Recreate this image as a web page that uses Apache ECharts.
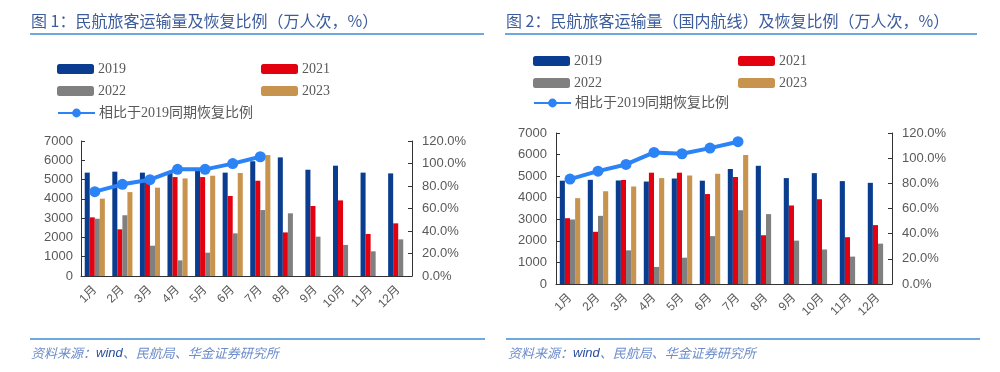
<!DOCTYPE html>
<html><head><meta charset="utf-8">
<script src="https://cdn.jsdelivr.net/npm/echarts@6/dist/echarts.min.js"></script>
<style>html,body{margin:0;padding:0;background:#fff}#c{width:1000px;height:372px}</style>
</head><body><div id="c"></div>
<script>
const months = ['1月','2月','3月','4月','5月','6月','7月','8月','9月','10月','11月','12月'];
const leftTicks = [0,1000,2000,3000,4000,5000,6000,7000];
const rightTicks = [0,20,40,60,80,100,120];
// Chart 1: total passenger volume (万人次)
const c1_2019 = [5360,5410,5360,5340,5480,5360,5950,6150,5510,5720,5360,5320];
const c1_2021 = [3040,2420,4950,5130,5130,4150,4940,2260,3630,3920,2180,2730];
const c1_2022 = [2970,3150,1570,810,1210,2210,3420,3250,2040,1610,1280,1900];
const c1_2023 = [4010,4350,4580,5060,5200,5340,6270];
const c1_ratio = [75.0,81.5,85.6,94.8,94.8,99.9,106.0];
// Chart 2: domestic routes (万人次)
const c2_2019 = [4790,4830,4800,4750,4890,4790,5330,5480,4910,5140,4770,4690];
const c2_2021 = [3050,2420,4820,5160,5160,4170,4960,2260,3640,3930,2170,2730];
const c2_2022 = [2990,3160,1560,790,1220,2220,3420,3240,2010,1600,1270,1870];
const c2_2023 = [3980,4300,4520,4910,5030,5110,5980];
const c2_ratio = [83.4,89.7,95.0,104.6,103.5,108.0,113.1];

const names = ['2019','2021','2022','2023','相比于2019同期恢复比例'];
const colors = {'2019':'#0a3d8f','2021':'#e3000f','2022':'#808080','2023':'#c8934c','line':'#2b83f6'};

const chart = echarts.init(document.getElementById('c'));
const axisCol = '#333';
const labCol = '#595959';
const numFont = 'Liberation Sans, Arial, sans-serif';

function xAxis(gi){
  return {type:'category', gridIndex:gi, data:months,
    axisLine:{lineStyle:{color:axisCol,width:1}},
    axisTick:{inside:true,length:4,lineStyle:{color:axisCol}},
    axisLabel:{rotate:45,margin:12,color:labCol,fontSize:12,fontFamily:'Liberation Sans, Noto Sans CJK SC, sans-serif'}};
}
function yLeft(gi,margin){
  return {type:'value', gridIndex:gi, min:leftTicks[0], max:leftTicks[leftTicks.length-1], interval:1000,
    splitLine:{show:false},
    axisLine:{show:true,lineStyle:{color:axisCol}},
    axisTick:{show:true,inside:true,length:4,lineStyle:{color:axisCol}},
    axisLabel:{margin:margin,color:labCol,fontSize:13,fontFamily:numFont,formatter:v=>String(v)}};
}
function yRight(gi,margin){
  return {type:'value', gridIndex:gi, position:'right', min:rightTicks[0], max:rightTicks[rightTicks.length-1], interval:20,
    splitLine:{show:false},
    axisLine:{show:true,lineStyle:{color:axisCol}},
    axisTick:{show:true,inside:true,length:4,lineStyle:{color:axisCol}},
    axisLabel:{margin:margin,color:labCol,fontSize:13,fontFamily:numFont,formatter:v=>v.toFixed(1)+'%'}};
}
function bars(xi,yi,arrs){
  const keys=['2019','2021','2022','2023'];
  return keys.map((k,i)=>({type:'bar',name:k,xAxisIndex:xi,yAxisIndex:yi,data:arrs[i],
    barGap:'0%',barCategoryGap:'27%',itemStyle:{color:colors[k]},silent:true}));
}
function line(xi,yi,data){
  return {type:'line',name:names[4],xAxisIndex:xi,yAxisIndex:yi,data:data,
    symbol:'circle',symbolSize:11,lineStyle:{color:colors.line,width:4},itemStyle:{color:colors.line},z:5};
}
const legFont = {color:labCol,fontSize:14,fontFamily:'Liberation Serif, Noto Sans CJK SC, serif'};
function legends(x1,x2,y1,y2,y3){
  const mk=(n,l,t)=>({data:[n],left:l,top:t,itemWidth:37,itemHeight:10,itemGap:0,padding:0,textStyle:Object.assign({padding:[0,0,0,-1]},legFont),selectedMode:false});
  return [mk('2019',x1,y1),mk('2021',x2,y1),mk('2022',x1,y2),mk('2023',x2,y2),
    Object.assign(mk(names[4],x1,y3),{itemHeight:11})];
}
const titleStyle={fill:'#3d5c9b',fontSize:16,fontFamily:'Noto Sans CJK SC, sans-serif'};
const footRich={
  c:{fill:'#6c8ccb',fontSize:13,fontStyle:'italic',fontFamily:'Noto Sans CJK SC, sans-serif'},
  w:{fill:'#2a4f9f',fontSize:13,fontStyle:'italic',fontFamily:'Liberation Sans, sans-serif'}
};
const footText='{c|资料来源：}{w|wind}{c|、民航局、华金证券研究所}';
chart.setOption({
  animation:false,
  grid:[{left:81,right:588,top:141,height:135},{left:556,right:108,top:133,height:151}],
  xAxis:[xAxis(0),xAxis(1)],
  yAxis:[yLeft(0,8),yRight(0,10),yLeft(1,9),yRight(1,10)],
  legend:legends(57,261,62,84,106).concat(legends(533,738,54,76,96)),
  series:[...bars(0,0,[c1_2019,c1_2021,c1_2022,c1_2023]),line(0,1,c1_ratio),
          ...bars(1,2,[c2_2019,c2_2021,c2_2022,c2_2023]),line(1,3,c2_ratio)],
  graphic:[
    {type:'text',left:31,top:13,style:Object.assign({text:'图 1：民航旅客运输量及恢复比例（万人次，%）'},titleStyle)},
    {type:'text',left:506,top:13,style:Object.assign({text:'图 2：民航旅客运输量（国内航线）及恢复比例（万人次，%）'},titleStyle)},
    {type:'line',shape:{x1:30,y1:34,x2:484,y2:34},style:{stroke:'#6fa8dc',lineWidth:2}},
    {type:'line',shape:{x1:505,y1:34,x2:977,y2:34},style:{stroke:'#6fa8dc',lineWidth:2}},
    {type:'line',shape:{x1:30,y1:339,x2:485,y2:339},style:{stroke:'#6fa8dc',lineWidth:2}},
    {type:'line',shape:{x1:506,y1:339,x2:980,y2:339},style:{stroke:'#6fa8dc',lineWidth:2}},
    {type:'text',left:31,top:347,style:{text:footText,rich:footRich}},
    {type:'text',left:508,top:347,style:{text:footText,rich:footRich}}
  ]
});
</script></body></html>
